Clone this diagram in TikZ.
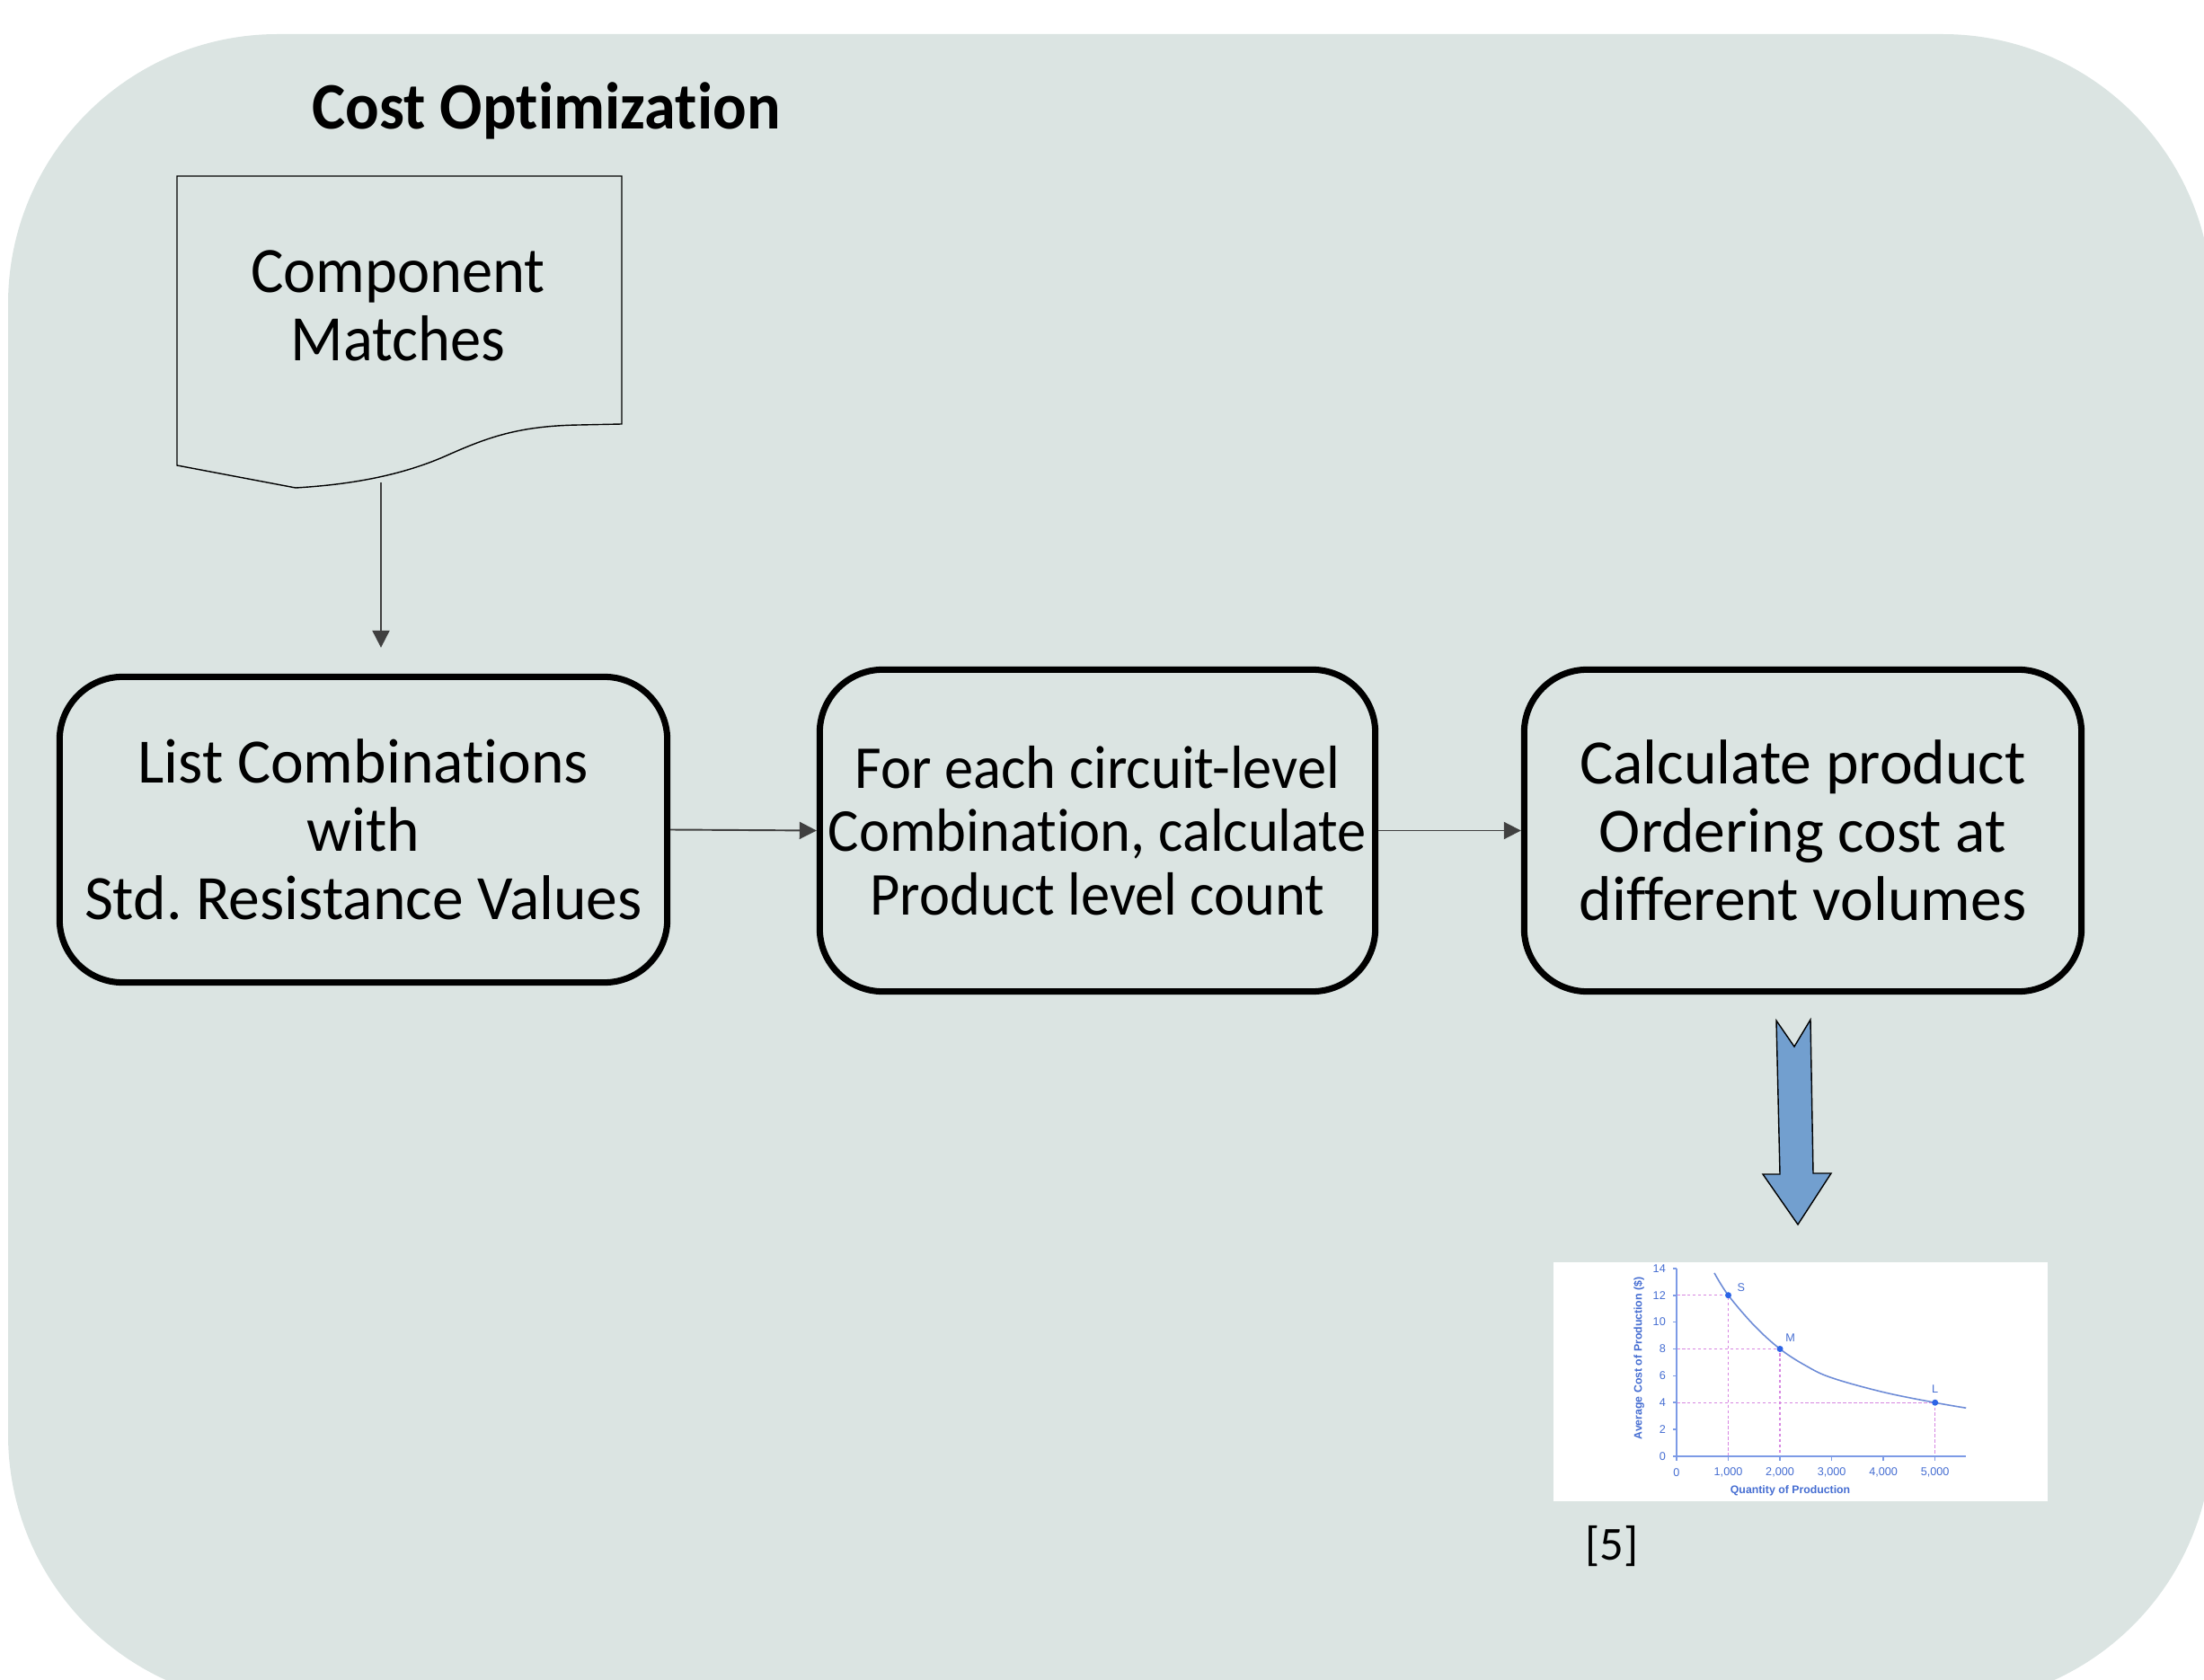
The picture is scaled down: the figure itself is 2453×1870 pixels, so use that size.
\documentclass[tikz,border=0pt]{standalone}
\usepackage{fontspec}
\setmainfont{Carlito}[Ligatures=CommonOff]
\newfontfamily\boxfont{Carlito}[FakeStretch=0.99,Ligatures=CommonOff]
\newfontfamily\narrowfont{Carlito}[FakeStretch=0.95,Ligatures=CommonOff]
\newfontfamily\chartfont{Liberation Sans}
\usetikzlibrary{arrows.meta}
\definecolor{bg}{RGB}{219,228,226}
\definecolor{arrowblue}{RGB}{114,159,207}
\definecolor{axisblue}{RGB}{125,155,230}
\definecolor{chtext}{RGB}{70,110,210}
\definecolor{curveblue}{RGB}{110,140,215}
\definecolor{dashpink}{RGB}{215,135,225}
\definecolor{dotblue}{RGB}{45,100,230}
\begin{document}
\begin{tikzpicture}[x=0.01cm,y=-0.01cm,
  procbox/.style={draw=black, line width=2pt, rounded corners=0.7cm, align=center,
    inner sep=0pt, font=\boxfont\fontsize{20}{21.6}\selectfont},
  conn/.style={draw=black!75, line width=0.55pt, -{Triangle[length=0.19cm,width=0.19cm]}},
  doctext/.style={align=center, inner sep=0pt, font=\narrowfont\fontsize{20.5}{21.6}\selectfont},
  chlabel/.style={text=chtext, inner sep=0pt, font=\chartfont\fontsize{3.6}{4}\selectfont},
  chtitle/.style={text=chtext, inner sep=0pt, font=\chartfont\bfseries\fontsize{3.5}{4}\selectfont},
  chdash/.style={draw=dashpink, line width=0.35pt, dash pattern=on 1pt off 0.7pt},
]
\useasboundingbox (0,0) rectangle (2453,1870);
% background
\fill[bg, rounded corners=3cm] (9,38) rectangle (2462,1897);

% title
\node[anchor=base west, inner sep=0pt, font=\narrowfont\bfseries\fontsize{21}{24}\selectfont] (title) at (347,144) {Cost Optimization};

% document shape
\draw[black, line width=0.4pt] (197,196) -- (692,196) -- (692,472) -- (645,473)
  .. controls (575,474) and (540,488) .. (495,508)
  .. controls (440,532) and (380,540) .. (329,543) -- (197,518) -- cycle;
\node[doctext] (doc) at (443,340) {Component\\Matches};
\coordinate (docout) at (424,537);

% process boxes
\node[procbox, minimum width=6.76cm, minimum height=3.40cm] (box1) at (404.5,923.5)
  {List Combinations\\with\\Std.\ Resistance Values};
\node[procbox, minimum width=6.18cm, minimum height=3.58cm, font=\narrowfont\fontsize{19.3}{20}\selectfont] (box2) at (1221.5,924.5)
  {For each circuit-level\\Combination, calculate\\Product level count};
\node[procbox, minimum width=6.20cm, minimum height=3.58cm] (box3) at (2006.5,924.5)
  {Calculate product\\Ordering cost at\\different volumes};

% connectors
\draw[conn, shorten >=0.29cm] (docout) -- (docout |- box1.north);
\draw[conn] (box1.east) -- (box2.west);
\draw[conn] (box2.east) -- (box3.west);

% blue block arrow
\draw[fill=arrowblue, draw=black, line width=0.4pt, line join=miter]
  (1977,1136) -- (1997,1165) -- (2015,1135) -- (2018,1306) -- (2038,1306)
  -- (2001,1363) -- (1962,1307) -- (1981,1307) -- cycle;

% chart
\node[fill=white, inner sep=0pt, minimum width=5.50cm, minimum height=2.66cm, anchor=north west] (chart) at (1728,1404) {};
\begin{scope}[shift={(1866,1621)}, x=0.575cm, y=0.1493cm]
  \draw[chdash] (0,12) -- (1,12) -- (1,0);
  \draw[chdash] (0,8) -- (2,8) -- (2,0);
  \draw[chdash] (0,4) -- (5,4) -- (5,0);
  \draw[axisblue, line width=0.45pt] (0,14) -- (0,0) -- (5.6,0);
  \foreach \c in {0,2,...,14} {
    \draw[axisblue, line width=0.45pt] (0,\c) -- (-0.07,\c);
    \node[chlabel, anchor=east] at (-0.2,\c) {\c};
  }
  \foreach \q/\t in {0/0,1/{1,000},2/{2,000},3/{3,000},4/{4,000},5/{5,000}} {
    \draw[axisblue, line width=0.45pt] (\q,0) -- (\q,-0.35);
    \node[chlabel] at (\q,-1.2) {\t};
  }
  \draw[curveblue, line width=0.45pt] plot[smooth, tension=0.6] coordinates
    {(0.73,13.66) (1,12) (1.5,9.75) (2,8) (2.5,6.75) (3,5.85) (4,4.78) (5,4) (5.6,3.6)};
  \fill[dotblue] (1,12) circle (0.035cm);
  \fill[dotblue] (2,8) circle (0.035cm);
  \fill[dotblue] (5,4) circle (0.035cm);
  \node[chlabel] at (1.25,12.55) {S};
  \node[chlabel] at (2.2,8.8) {M};
  \node[chlabel] at (5,4.98) {L};
  \node[chtitle] at (2.2,-2.55) {Quantity of Production};
  \node[chtitle, rotate=90] at (-0.73,7.3) {Average Cost of Production (\$)};
\end{scope}

% reference
\node[inner sep=0pt, anchor=base, font=\fontsize{15}{18}\selectfont] (ref) at (1794,1736) {[5]};
\end{tikzpicture}
\end{document}
